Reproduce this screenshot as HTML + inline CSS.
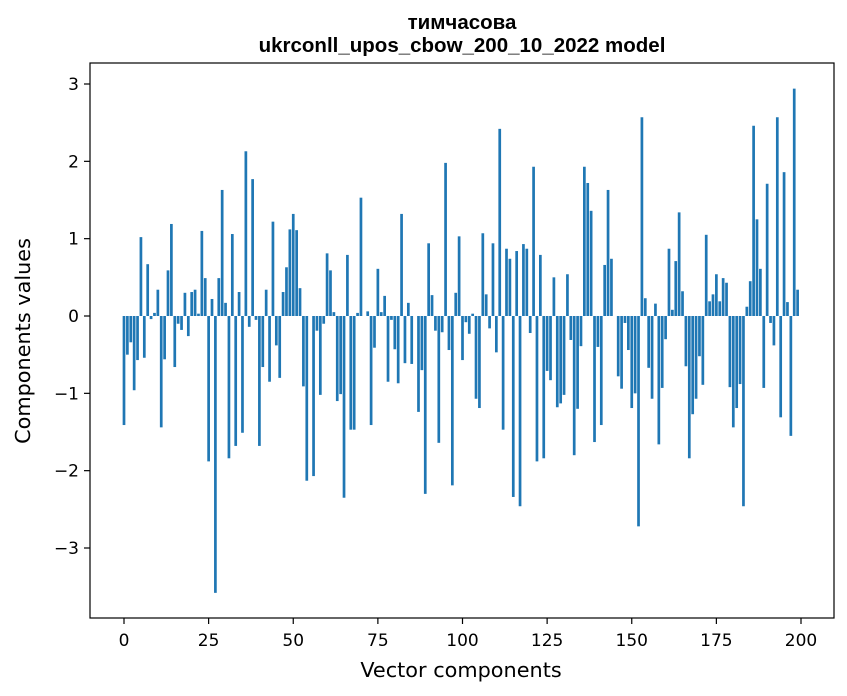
<!DOCTYPE html>
<html><head><meta charset="utf-8"><style>
html,body{margin:0;padding:0;background:#fff;}
svg{display:block;font-family:"DejaVu Sans","Liberation Sans",sans-serif;}
</style></head><body>
<svg id="chart" width="847" height="696" viewBox="0 0 847 696">
<text x="462" y="29" text-anchor="middle" font-size="20.5" font-weight="bold" font-family="Liberation Sans, sans-serif">тимчасова</text>
<text x="462" y="52" text-anchor="middle" font-size="20.5" font-weight="bold" font-family="Liberation Sans, sans-serif">ukrconll_upos_cbow_200_10_2022 model</text>
<g id="bars"></g>
<g id="ticks"></g>
<rect x="90" y="63" width="744" height="555" fill="none" stroke="#000" stroke-width="1.2"/>
<text x="461" y="677" text-anchor="middle" font-size="20.8">Vector components</text>
<text transform="translate(30,341) rotate(-90)" text-anchor="middle" font-size="20.8">Components values</text>
</svg>
<script>
const values = [-1.41,-0.50,-0.34,-0.96,-0.57,1.02,-0.54,0.67,-0.04,0.04,0.34,-1.44,-0.56,0.59,1.19,-0.66,-0.10,-0.18,0.30,-0.26,0.31,0.34,0.03,1.10,0.49,-1.88,0.22,-3.58,0.49,1.63,0.17,-1.84,1.06,-1.68,0.31,-1.51,2.13,-0.14,1.77,-0.05,-1.68,-0.66,0.34,-0.85,1.22,-0.38,-0.80,0.31,0.63,1.12,
1.32,1.11,0.36,-0.91,-2.13,0.0,-2.07,-0.19,-1.02,-0.10,0.81,0.59,0.05,-1.10,-1.01,-2.35,0.79,-1.47,-1.47,0.04,1.53,0.0,0.06,-1.41,-0.41,0.61,0.05,0.26,-0.85,-0.05,-0.43,-0.87,1.32,-0.61,0.17,-0.62,0.0,-1.24,-0.70,-2.30,0.94,0.27,-0.19,-1.64,-0.21,1.98,-0.44,-2.19,0.30,1.03,
-0.57,-0.08,-0.23,0.03,-1.07,-1.19,1.07,0.28,-0.16,0.94,-0.47,2.42,-1.47,0.87,0.74,-2.34,0.84,-2.46,0.93,0.87,-0.22,1.93,-1.88,0.79,-1.84,-0.71,-0.83,0.50,-1.18,-1.13,-1.02,0.54,-0.31,-1.80,-1.20,-0.39,1.93,1.72,1.36,-1.63,-0.40,-1.41,0.66,1.63,0.74,0.0,-0.78,-0.94,-0.09,-0.44,
-1.19,-1.00,-2.72,2.57,0.23,-0.67,-1.07,0.16,-1.66,-0.93,-0.30,0.87,0.08,0.71,1.34,0.32,-0.65,-1.84,-1.27,-1.07,-0.52,-0.89,1.05,0.19,0.28,0.54,0.19,0.49,0.43,-0.92,-1.44,-1.19,-0.88,-2.46,0.12,0.45,2.46,1.25,0.61,-0.93,1.71,-0.09,-0.38,2.57,-1.31,1.86,0.18,-1.55,2.94,0.34];
const xTicks = [0,25,50,75,100,125,150,175,200];
const yTicks = [-3,-2,-1,0,1,2,3];
const NS='http://www.w3.org/2000/svg';
function xs(v){return 124+v*(801-124)/200;}
function ys(v){return 316-v*(316-84)/3;}
const bw=0.8*(801-124)/200;
const gb=document.getElementById('bars');
values.forEach((v,i)=>{
  const r=document.createElementNS(NS,'rect');
  const y0=ys(0), y1=ys(v);
  r.setAttribute('x',xs(i)-bw/2);
  r.setAttribute('y',Math.min(y0,y1));
  r.setAttribute('width',bw);
  r.setAttribute('height',Math.abs(y1-y0));
  r.setAttribute('fill','#1f77b4');
  
  
  gb.appendChild(r);
});
const gt=document.getElementById('ticks');
xTicks.forEach(t=>{
  const l=document.createElementNS(NS,'line');
  l.setAttribute('x1',xs(t));l.setAttribute('x2',xs(t));l.setAttribute('y1',618);l.setAttribute('y2',624);
  l.setAttribute('stroke','#000');l.setAttribute('stroke-width','1.2');
  
  
  gt.appendChild(l);
  const tx=document.createElementNS(NS,'text');
  tx.setAttribute('x',xs(t));tx.setAttribute('y',646);tx.setAttribute('text-anchor','middle');tx.setAttribute('font-size','17');
  tx.textContent=t;
  
  
  gt.appendChild(tx);
});
yTicks.forEach(t=>{
  const l=document.createElementNS(NS,'line');
  l.setAttribute('x1',84);l.setAttribute('x2',90);l.setAttribute('y1',ys(t));l.setAttribute('y2',ys(t));
  l.setAttribute('stroke','#000');l.setAttribute('stroke-width','1.2');
  
  
  gt.appendChild(l);
  const tx=document.createElementNS(NS,'text');
  tx.setAttribute('x',79);tx.setAttribute('y',ys(t)+6);tx.setAttribute('text-anchor','end');tx.setAttribute('font-size','17');
  tx.textContent=(t<0?'\u2212'+(-t):t);
  
  
  gt.appendChild(tx);
});
</script>
</body></html>
